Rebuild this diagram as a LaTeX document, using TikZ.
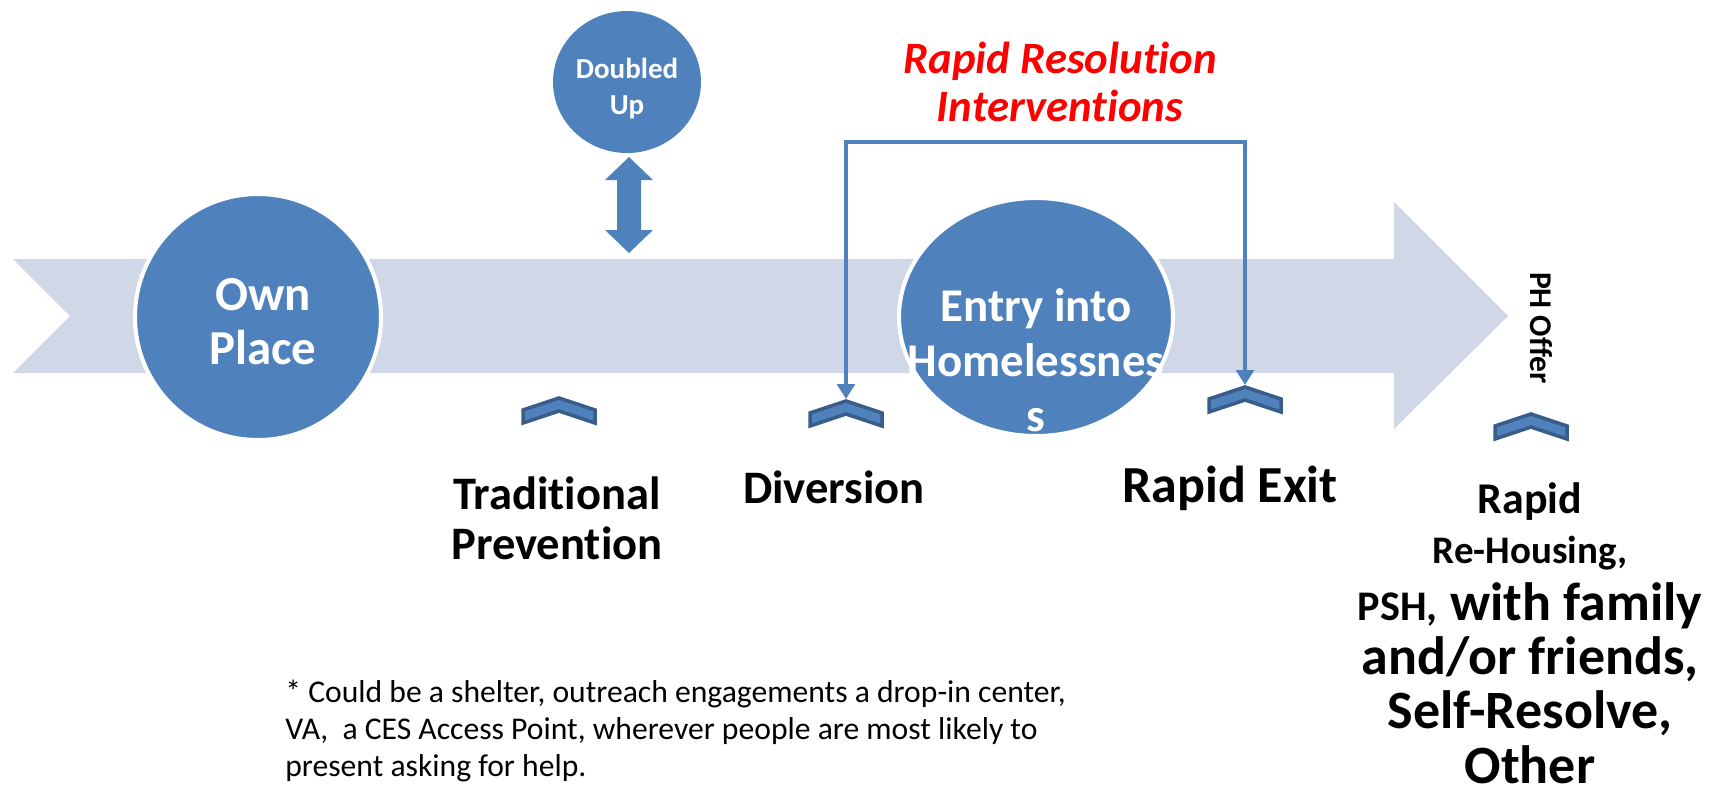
\documentclass[tikz,border=0pt]{standalone}
\usepackage{fontspec}
\setmainfont{Carlito}[Ligatures=NoCommon]
\usetikzlibrary{arrows.meta}
\definecolor{bandgray}{HTML}{D0D8E8}
\definecolor{bubble}{HTML}{4F81BD}
\definecolor{chevline}{HTML}{385D8A}

\begin{document}
\begin{tikzpicture}[x=0.2mm,y=-0.2mm,
	chevron/.style={fill=bubble,draw=chevline,line width=2pt,line join=miter},
	lbl/.style={align=center,inner sep=0pt}]
	\useasboundingbox (0,0) rectangle (1717,796);
	\fill[bandgray] (13,259) -- (70,316) -- (13,373) -- (1394,373) -- (1394,429) -- (1508,316) -- (1394,202) -- (1394,259) -- cycle;
	\filldraw[fill=bubble,draw=white,line width=2.3pt] (258,317) circle [radius=123];
	\filldraw[fill=bubble,draw=white,line width=2.3pt] (1036,317) ellipse [x radius=137, y radius=119];
	\fill[bubble] (627,82) ellipse [x radius=74, y radius=71];
	\fill[bubble] (629,157) -- (653,180) -- (641,180) -- (641,230) -- (653,230) -- (629,253) -- (605,230) -- (617,230) -- (617,180) -- (605,180) -- cycle;
	\foreach \x/\y/\n in {559/396/ctrad, 846/399/cdiv, 1245/385/cexit, 1531/412/cph}{
		\coordinate (\n) at (\x,\y);
		\draw[chevron] (\x-36,\y+14) -- (\x,\y+2) -- (\x+36,\y+14) -- (\x+36,\y+27) -- (\x,\y+15) -- (\x-36,\y+27) -- cycle;
	}
	\coordinate (bar) at (1045,142);
	\draw[bubble,line width=2.3pt,{Triangle[length=8.5pt,width=10pt]}-{Triangle[length=8.5pt,width=10pt]}] (cdiv) -- (cdiv |- bar) -- (cexit |- bar) -- (cexit);
	\node[lbl,text=white,font=\bfseries\fontsize{27.8}{30.7}\selectfont] (own) at (263,322) {Own\\Place};
	\node[lbl,text=white,font=\bfseries\fontsize{16.5}{20.5}\selectfont] (dbl) at (627,89) {Doubled\\Up};
	\node[lbl,text=white,font=\bfseries\fontsize{26.7}{31.3}\selectfont] (entry) at (1036,360) {Entry into\\Homelessnes\\s};
	\node[lbl,text=red,font=\bfseries\itshape\fontsize{25.5}{27.8}\selectfont] (rri) at (1060,82) {Rapid Resolution\\Interventions};
	\node[lbl,font=\bfseries\fontsize{26.5}{28.5}\selectfont] (trad) at (557,518) {Traditional\\Prevention};
	\node[lbl,anchor=base,font=\bfseries\fontsize{26.5}{28.5}\selectfont] (divl) at (834,503) {Diversion};
	\node[lbl,anchor=base,font=\bfseries\fontsize{29.6}{32}\selectfont] (exitl) at (1230,502) {Rapid Exit};
	\node[lbl,rotate=-90,font=\bfseries\fontsize{18}{21}\selectfont] (phl) at (1541,328) {PH Offer};
	\node[lbl,anchor=north,font=\bfseries\fontsize{30.7}{30.9}\selectfont] (housed) at (1530,482) {{\fontsize{25}{28}\selectfont Rapid}\\[-2pt]
		{\fontsize{22.2}{26}\selectfont Re-Housing,}\\[1.2pt]
		{\fontsize{24}{26}\selectfont PSH,} with family\\and/or friends,\\Self-Resolve,\\Other};
	\node[anchor=north west,align=left,inner sep=0pt,font=\fontsize{18}{20.9}\selectfont] (note) at (285,680) {* Could be a shelter, outreach engagements a drop-in center,\\VA,\ \ a CES Access Point, wherever people are most likely to\\present asking for help.};
\end{tikzpicture}
\end{document}
